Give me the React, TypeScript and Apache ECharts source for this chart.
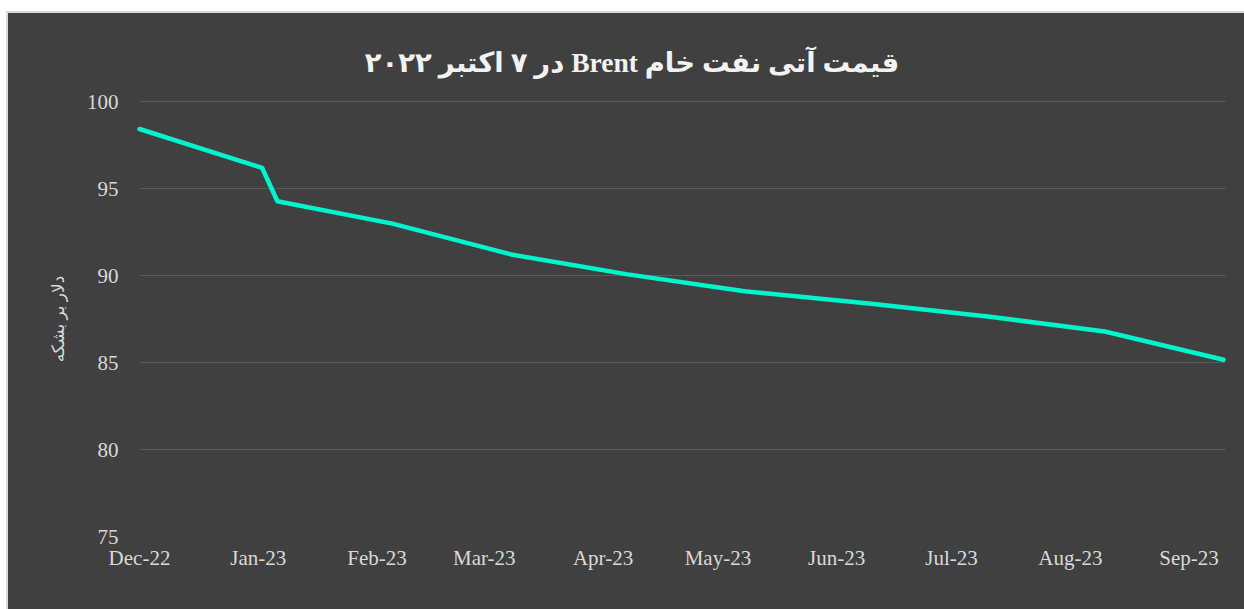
import React, { useEffect, useRef } from "react";
import * as echarts from "echarts";

// ---- data ----
const pointDates = [
  "2022-12-01", "2023-01-02", "2023-01-06", "2023-02-05", "2023-03-08", "2023-04-07",
  "2023-05-08", "2023-06-10", "2023-07-11", "2023-08-10", "2023-09-10",
];
const brentPrices = [98.42, 96.19, 94.27, 92.98, 91.21, 90.08, 89.09, 88.38, 87.63, 86.78, 85.16];

const tickDates = [
  "2022-12-01", "2023-01-01", "2023-02-01", "2023-03-01", "2023-04-01",
  "2023-05-01", "2023-06-01", "2023-07-01", "2023-08-01", "2023-09-01",
];
const tickLabels = [
  "Dec-22", "Jan-23", "Feb-23", "Mar-23", "Apr-23",
  "May-23", "Jun-23", "Jul-23", "Aug-23", "Sep-23",
];

const titleText = "قیمت آتی نفت خام Brent در ۷ اکتبر ۲۰۲۲";
const yAxisName = "دلار بر بشکه";

const toTs = (s: string) => {
  const [y, m, d] = s.split("-").map(Number);
  return Date.UTC(y, m - 1, d);
};

const FONT = "'Liberation Serif', 'DejaVu Serif', 'DejaVu Sans', serif";

export default function App() {
  const ref = useRef<HTMLDivElement>(null);
  useEffect(() => {
    if (!ref.current) return;
    const chart = echarts.init(ref.current, undefined, { renderer: "svg" });
    const tickTs = tickDates.map(toTs);
    chart.setOption({
      animation: false,
      backgroundColor: "#404040",
      title: {
        text: "\u202B" + titleText + "\u202C",
        left: "center",
        top: 30,
        textStyle: {
          color: "#f2f2f2",
          fontSize: 27.5,
          fontWeight: "bold",
          fontFamily: FONT,
        },
      },
      grid: { left: 131.5, right: 30.5, top: 88.5, bottom: 84.5 },
      xAxis: {
        type: "value",
        min: toTs("2022-12-01"),
        max: toTs("2023-09-10") + 12 * 3600 * 1000,
        axisLine: { show: false },
        axisTick: { show: false, customValues: tickTs },
        splitLine: { show: false },
        axisLabel: {
          customValues: tickTs,
          color: "#d9d9d9",
          fontSize: 21,
          fontFamily: FONT,
          margin: 11,
          showMinLabel: true,
          showMaxLabel: true,
          formatter: (v: number) => {
            const i = tickTs.indexOf(v);
            return i >= 0 ? tickLabels[i] : "";
          },
        },
      },
      yAxis: {
        type: "value",
        min: 75,
        max: 100,
        interval: 5,
        name: "\u202B" + yAxisName + "\u202C",
        nameLocation: "middle",
        nameGap: 73,
        nameRotate: 90,
        nameTextStyle: { color: "#d9d9d9", fontSize: 17, fontFamily: FONT },
        axisLine: { show: false },
        axisTick: { show: false },
        axisLabel: {
          color: "#d9d9d9",
          fontSize: 21,
          fontFamily: FONT,
          margin: 21,
        },
        splitLine: {
          show: true,
          showMinLine: false,
          lineStyle: { color: "#5a5a5a", width: 1 },
        },
      },
      series: [
        {
          type: "line",
          data: pointDates.map((d, i) => [toTs(d), brentPrices[i]]),
          showSymbol: false,
          symbol: "none",
          lineStyle: { color: "#00F5CD", width: 4.5, cap: "round", join: "round" },
        },
      ],
    });
    return () => chart.dispose();
  }, []);
  return (
    <div
      style={{
        position: "fixed",
        left: 6,
        top: 11,
        width: 1250,
        height: 610,
        borderTop: "2px solid #d9d9d9",
        borderLeft: "2px solid #d9d9d9",
        boxSizing: "border-box",
        background: "#404040",
      }}
    >
      <div ref={ref} style={{ width: 1248, height: 608 }} />
    </div>
  );
}
